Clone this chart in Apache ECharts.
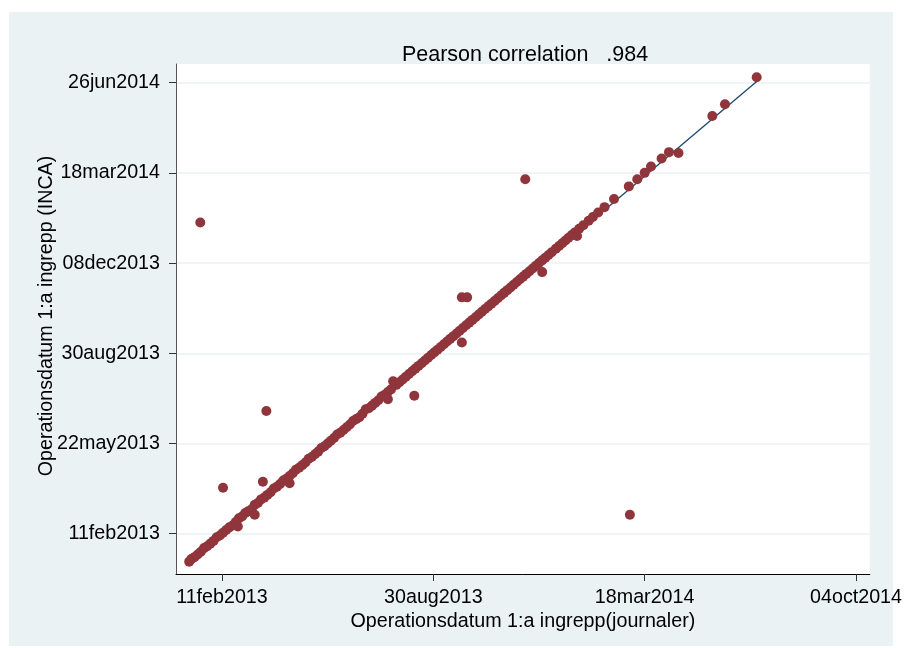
<!DOCTYPE html>
<html>
<head>
<meta charset="utf-8">
<script src="https://cdn.jsdelivr.net/npm/echarts@6/dist/echarts.min.js"></script>
<style>
  html, body { margin: 0; padding: 0; background: #fff; }
  #chart { width: 905px; height: 648px; }
</style>
</head>
<body>
<div id="chart"></div>
<script>
// days counted from 11feb2013
var journalDays = [
  -31, -29, -26, -23, -20, -17, -14, -11, -8, -5, -2, 1, 4, 7, 10, 13, 16, 15, 19, 22,
  25, 28, 31, 31, 34, 37, 40, 43, 46, 49, 52, 55, 58, 61, 64, 64, 67, 70, 73, 76,
  79, 82, 85, 88, 91, 94, 97, 100, 103, 106, 109, 112, 115, 118, 121, 124, 127, 130, 133, 136,
  139, 142, 145, 148, 151, 154, 157, 157, 160, 162, 165, 168, 171, 174, 177, 180, 182, 183, 186, 189,
  192, 195, 198, 201, 204, 207, 210, 213, 216, 219, 222, 225, 227, 227, 232, 228, 231, 234, 237, 240,
  243, 246, 249, 252, 255, 258, 261, 264, 267, 270, 273, 276, 279, 282, 285, 287, 288, 291, 294, 297,
  300, 303, 303, 306, 309, 312, 316, 319, 322, 325, 328, 331, 334, 336, 338, 342, 347, 351, 356, 362,
  371, 385, 386, 393, 400, 406, 416, 423, 432, 464, 476, 506,
  -20.5, 1, 42, 38.7
];
var incaDays = [
  -31, -28, -26, -23, -20, -16, -14, -11, -8, -4, -2, 1, 4, 7, 9, 13, 17, 8, 19, 23,
  25, 27, 32, 21, 34, 38, 40, 43, 46, 50, 52, 55, 59, 61, 56, 64, 67, 71, 73, 76,
  79, 83, 85, 88, 91, 95, 97, 100, 103, 106, 110, 112, 115, 118, 121, 125, 127, 129, 133, 138,
  139, 142, 145, 148, 152, 154, 149, 157, 160, 169, 165, 168, 171, 174, 177, 180, 153, 183, 186, 189,
  192, 195, 198, 201, 204, 207, 210, 213, 216, 219, 222, 225, 212, 262, 262, 228, 231, 234, 237, 240,
  243, 246, 249, 252, 255, 258, 261, 264, 267, 270, 273, 276, 279, 282, 285, 393, 288, 291, 294, 297,
  300, 290, 303, 306, 309, 312, 316, 319, 322, 325, 328, 331, 334, 330, 338, 342, 347, 351, 356, 362,
  371, 385, 21, 393, 400, 407, 416, 423, 422, 463, 476, 506,
  345, 51, 136, 57.6
];
var fitX = [-31.5, 506];
var fitY = [-30.9, 501.2];
var xTicks = [0, 200, 400, 600];
var yTicks = [0, 100, 200, 300, 400, 500];

var base = Date.UTC(2013, 1, 11);
var mon = ['jan','feb','mar','apr','may','jun','jul','aug','sep','oct','nov','dec'];
function fmt(v) {
  var d = new Date(base + Math.round(v) * 86400000);
  return String(d.getUTCDate()).padStart(2, '0') + mon[d.getUTCMonth()] + d.getUTCFullYear();
}

var pts = journalDays.map(function (x, i) { return [x, incaDays[i]]; });
var fit = fitX.map(function (x, i) { return [x, fitY[i]]; });

var font = 'Liberation Sans, Arial, sans-serif';
var fs = 19.7;
var chart = echarts.init(document.getElementById('chart'));
chart.setOption({
  backgroundColor: '#eaf2f3',
  animation: false,
  textStyle: { fontFamily: font },
  graphic: [
    { type: 'rect', shape: { x: 0, y: 0, width: 905, height: 12 }, style: { fill: '#fff' } },
    { type: 'rect', shape: { x: 0, y: 0, width: 9, height: 648 }, style: { fill: '#fff' } },
    { type: 'rect', shape: { x: 893, y: 0, width: 12, height: 648 }, style: { fill: '#fff' } },
    { type: 'rect', shape: { x: 0, y: 646, width: 905, height: 2 }, style: { fill: '#fff' } }
  ],
  title: {
    text: 'Pearson correlation   .984',
    left: 520,
    top: 39,
    textAlign: 'center',
    textStyle: { fontFamily: font, fontSize: 21.5, fontWeight: 'normal', color: '#000' }
  },
  grid: {
    left: 176, right: 34, top: 64, bottom: 74,
    show: true, backgroundColor: '#fff', borderWidth: 0
  },
  xAxis: {
    type: 'value',
    min: -43.5, max: 613,
    name: 'Operationsdatum 1:a ingrepp(journaler)',
    nameLocation: 'middle',
    nameGap: 38,
    nameMoveOverlap: false,
    nameTextStyle: { fontFamily: font, fontSize: fs, color: '#000' },
    axisLine: { show: true, onZero: false, lineStyle: { color: '#000', width: 1 } },
    axisTick: { show: true, length: 7, customValues: xTicks, lineStyle: { color: '#333' } },
    axisLabel: { customValues: xTicks, formatter: fmt, margin: 14, fontFamily: font, fontSize: fs, color: '#000' },
    splitLine: { show: false }
  },
  yAxis: {
    type: 'value',
    min: -44.7, max: 520.7,
    name: 'Operationsdatum 1:a ingrepp (INCA)',
    nameLocation: 'middle',
    nameGap: 119,
    nameMoveOverlap: false,
    nameTextStyle: { fontFamily: font, fontSize: fs, color: '#000', padding: [0, 0, 0, 6] },
    axisLine: { show: true, onZero: false, lineStyle: { color: '#555', width: 1 } },
    axisTick: { show: true, length: 7, customValues: yTicks, lineStyle: { color: '#333' } },
    axisLabel: { customValues: yTicks, formatter: fmt, margin: 16, fontFamily: font, fontSize: fs, color: '#000' },
    splitLine: { show: true, lineStyle: { color: '#eaf2f3', width: 1.5 } }
  },
  series: [
    {
      type: 'line',
      data: fit,
      symbol: 'none',
      z: 1,
      lineStyle: { color: '#1a476f', width: 1.3 }
    },
    {
      type: 'scatter',
      data: pts,
      symbol: 'circle',
      symbolSize: 10,
      z: 2,
      itemStyle: { color: '#90353b', opacity: 1 }
    }
  ]
});
</script>
</body>
</html>
